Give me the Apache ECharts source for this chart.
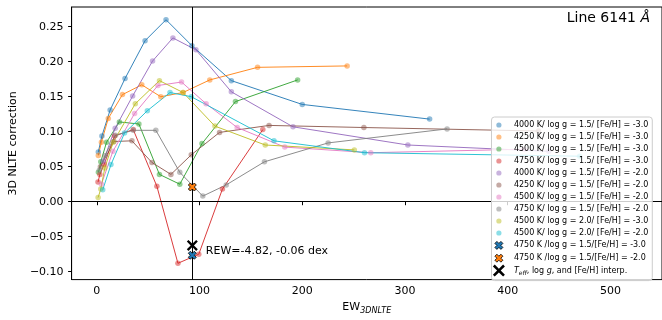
<!DOCTYPE html>
<html><head><meta charset="utf-8">
<script src="https://cdn.jsdelivr.net/npm/echarts@6/dist/echarts.min.js"></script>
<style>html,body{margin:0;padding:0;background:#fff}#c{width:662px;height:320px}</style>
</head><body><div id="c"></div>
<script>
// ---- data ----
const seriesNames = [
  '4000 K/ log g = 1.5/ [Fe/H] = -3.0',
  '4250 K/ log g = 1.5/ [Fe/H] = -3.0',
  '4500 K/ log g = 1.5/ [Fe/H] = -3.0',
  '4750 K/ log g = 1.5/ [Fe/H] = -3.0',
  '4000 K/ log g = 1.5/ [Fe/H] = -2.0',
  '4250 K/ log g = 1.5/ [Fe/H] = -2.0',
  '4500 K/ log g = 1.5/ [Fe/H] = -2.0',
  '4750 K/ log g = 1.5/ [Fe/H] = -2.0',
  '4500 K/ log g = 2.0/ [Fe/H] = -3.0',
  '4500 K/ log g = 2.0/ [Fe/H] = -2.0'
];
const specialNames = [
  '4750 K /log g = 1.5/[Fe/H] = -3.0',
  '4750 K /log g = 1.5/[Fe/H] = -2.0',
  'interp'
];
const d4000_15_m3 = [[1.5,0.071],[5,0.094],[13,0.131],[27.5,0.176],[47,0.230],[67.4,0.260],[92.6,0.223],[131,0.173],[200,0.139],[324,0.118]];
const d4250_15_m3 = [[1.5,0.066],[4.5,0.085],[11.2,0.119],[25,0.153],[43.8,0.167],[62.3,0.150],[84,0.156],[110,0.174],[156.5,0.192],[243.7,0.194]];
const d4500_15_m3 = [[1.6,0.042],[3.9,0.057],[9.5,0.085],[22,0.114],[41,0.111],[61,0.039],[80.8,0.025],[102.4,0.083],[135,0.143],[195.5,0.174]];
const d4750_15_m3 = [[1.2,0.028],[3,0.039],[7.1,0.053],[17.3,0.094],[35.5,0.103],[58.5,0.022],[79,-0.088],[99.3,-0.075],[122.3,0.018],[161.6,0.103]];
const d4000_15_m2 = [[6.4,0.058],[17.9,0.105],[34.9,0.151],[54.3,0.201],[74.1,0.234],[96.5,0.217],[131,0.157],[191,0.107],[302.8,0.081],[440,0.072]];
const d4250_15_m2 = [[3.5,0.050],[16.7,0.086],[34.2,0.087],[53.7,0.056],[72.2,0.039],[92,0.067],[119.5,0.099],[167.7,0.109],[260,0.106],[430,0.101]];
const d4500_15_m2 = [[4.5,0.025],[15.7,0.072],[36.8,0.126],[59.5,0.166],[82.5,0.171],[106.4,0.140],[136.7,0.106],[183,0.078],[266.7,0.070],[416,0.075]];
const d4750_15_m2 = [[2.5,0.045],[8,0.066],[18.3,0.095],[35.5,0.102],[57.5,0.102],[80.8,0.042],[103.2,0.008],[126,0.024],[163.2,0.057],[225.2,0.084],[341,0.104]];
const d4500_20_m3 = [[1.3,0.006],[3.9,0.018],[7.8,0.048],[16,0.085],[37.5,0.140],[61,0.173],[84,0.156],[115,0.108],[164,0.081],[250.7,0.074]];
const d4500_20_m2 = [[5.8,0.017],[13.8,0.053],[27,0.098],[49.2,0.130],[71.3,0.156],[92,0.150],[172.5,0.087],[260.6,0.070],[470,0.065]];
const seriesData = [d4000_15_m3,d4250_15_m3,d4500_15_m3,d4750_15_m3,d4000_15_m2,d4250_15_m2,d4500_15_m2,d4750_15_m2,d4500_20_m3,d4500_20_m2];
const special_m3 = [[93.0,-0.0765]];
const special_m2 = [[93.0,0.021]];
const interpPoint = [[93.0,-0.0625]];
const rewEW = 93.0;
const rewText = 'REW=-4.82, -0.06 dex';
const xTicks = [0,100,200,300,400,500];
const yTicks = [-0.10,-0.05,0.00,0.05,0.10,0.15,0.20,0.25];

// ---- styles ----
const palette = ['#1f77b4','#ff7f0e','#2ca02c','#d62728','#9467bd','#8c564b','#e377c2','#7f7f7f','#bcbd22','#17becf'];
const FONT = 'DejaVu Sans';
function rgba(hex,a){const n=parseInt(hex.slice(1),16);return `rgba(${n>>16&255},${n>>8&255},${n&255},${a})`;}
function xPoly(o,s,t){ // filled X inside [o,o+s], arm param t (fraction)
  const p=(u,v)=>`${(o+u*s).toFixed(3)},${(o+v*s).toFixed(3)}`;
  const a=t, h=0.5;
  return `M${p(0,a)} L${p(a,0)} L${p(h,h-a)} L${p(1-a,0)} L${p(1,a)} L${p(h+a,h)}`
    + ` L${p(1,1-a)} L${p(1-a,1)} L${p(h,h+a)} L${p(a,1)} L${p(0,1-a)} L${p(h-a,h)} Z`;
}
const fatX = 'path://' + xPoly(0,10,0.25);
const thinX = 'path://' + xPoly(0,10,0.15);
const legendCircle = 'path://M0,0 M12,12 M8.6,6 A2.6,2.6 0 1 1 3.4,6 A2.6,2.6 0 1 1 8.6,6 Z';
const legendFatX = 'path://M0,0 M12,12 ' + xPoly(2,8,0.25);
const legendThinX = 'path://' + xPoly(0,12,0.15);

const series = seriesData.map((d,i)=>({
  type:'line', name:seriesNames[i], data:d, symbol:'circle', symbolSize:5.5, showSymbol:true,
  itemStyle:{color:rgba(palette[i],0.5)}, lineStyle:{color:palette[i], width:1, opacity:0.9},
  emphasis:{disabled:true}, silent:true, animation:false, z:2
}));
series[0].markLine = {
  silent:true, symbol:['none','none'], animation:false, label:{show:false},
  lineStyle:{color:'#000', width:1, type:'solid', opacity:1},
  data:[{xAxis:rewEW},{yAxis:0}]
};
series.push({type:'scatter', name:specialNames[0], data:special_m3, symbol:fatX, symbolSize:8,
  itemStyle:{color:palette[0], borderColor:'#000', borderWidth:0.8, opacity:1}, silent:true, animation:false, z:5});
series.push({type:'scatter', name:specialNames[1], data:special_m2, symbol:fatX, symbolSize:8,
  itemStyle:{color:palette[1], borderColor:'#000', borderWidth:0.8, opacity:1}, silent:true, animation:false, z:5});
series.push({type:'scatter', name:specialNames[2], data:interpPoint, symbol:thinX, symbolSize:11,
  itemStyle:{color:'#000', opacity:1}, silent:true, animation:false, z:6,
  label:{show:true, position:'right', distance:8, offset:[0,5.5], formatter:rewText, fontSize:11, color:'#000', fontFamily:FONT}});

const legendData = seriesNames.map((n,i)=>({name:n, icon:legendCircle, itemStyle:{color:rgba(palette[i],0.5), borderWidth:0}}))
  .concat([
    {name:specialNames[0], icon:legendFatX, itemStyle:{color:palette[0], borderColor:'#000', borderWidth:0.8}},
    {name:specialNames[1], icon:legendFatX, itemStyle:{color:palette[1], borderColor:'#000', borderWidth:0.8}},
    {name:specialNames[2], icon:legendThinX, itemStyle:{color:'#000', borderWidth:0}}
  ]);

const yFmt = v => (v < -1e-9 ? '\u2212' + Math.abs(v).toFixed(2) : Math.abs(v).toFixed(2));

const option = {
  animation:false,
  textStyle:{fontFamily:FONT},
  title:{
    text:'{a|Line 6141 }{b|Å}', right:7, top:6,
    textStyle:{fontWeight:'normal', rich:{a:{fontSize:14, fontFamily:FONT, fontWeight:'normal', color:'#000'}, b:{fontSize:14, fontFamily:FONT, fontWeight:'normal', fontStyle:'italic', color:'#000'}}}
  },
  grid:{left:70, top:7, width:600, height:280, show:true, borderColor:'#000', borderWidth:1, backgroundColor:'transparent'},
  xAxis:{
    type:'value', min:-24.5, max:550.2,
    name:'{a|EW}{s|3DNLTE}', nameLocation:'middle', nameGap:15,
    nameTextStyle:{rich:{a:{fontSize:11, fontFamily:FONT, color:'#000', lineHeight:16, verticalAlign:'middle'},
                          s:{fontSize:8, fontFamily:FONT, fontStyle:'italic', color:'#000', verticalAlign:'bottom'}}},
    axisLine:{show:true, lineStyle:{color:'#000', width:1}},
    axisTick:{show:true, inside:false, length:3.5, lineStyle:{color:'#000', width:1}, customValues:xTicks},
    axisLabel:{show:true, color:'#000', fontSize:11, fontFamily:FONT, margin:6, customValues:xTicks, formatter:v=>String(Math.round(v))},
    splitLine:{show:false}
  },
  yAxis:{
    type:'value', min:-0.1113, max:0.2782,
    name:'3D NLTE correction', nameLocation:'middle', nameGap:49, nameRotate:90,
    nameTextStyle:{fontSize:11, fontFamily:FONT, color:'#000'},
    axisLine:{show:true, onZero:false, lineStyle:{color:'#000', width:1}},
    axisTick:{show:true, inside:false, length:3.5, lineStyle:{color:'#000', width:1}, customValues:yTicks},
    axisLabel:{show:true, color:'#000', fontSize:11, fontFamily:FONT, margin:8, customValues:yTicks, formatter:yFmt},
    splitLine:{show:false}
  },
  legend:{
    z:20, zlevel:0,
    orient:'vertical', left:491.5, top:117, padding:[2,4,4,1], itemGap:0, itemWidth:20, itemHeight:12,
    backgroundColor:'rgba(255,255,255,0.8)', borderColor:'#cccccc', borderWidth:1, borderRadius:3,
    selectedMode:false, data:legendData,
    textStyle:{fontSize:8, fontFamily:FONT, color:'#000',
      rich:{i:{fontSize:8, fontStyle:'italic', fontFamily:FONT, color:'#000', verticalAlign:'middle', lineHeight:12},
            sub:{fontSize:6, fontStyle:'italic', fontFamily:FONT, color:'#000', verticalAlign:'bottom'},
            n:{fontSize:8, fontFamily:FONT, color:'#000', verticalAlign:'middle', lineHeight:12}}},
    formatter: n => n === 'interp' ? '{i|T}{sub|eff}{n|, log }{i|g}{n|, and [Fe/H] interp.}' : n
  },
  series
};
const chart = echarts.init(document.getElementById('c'), null, {renderer:'canvas'});
chart.setOption(option);
</script>
</body></html>
